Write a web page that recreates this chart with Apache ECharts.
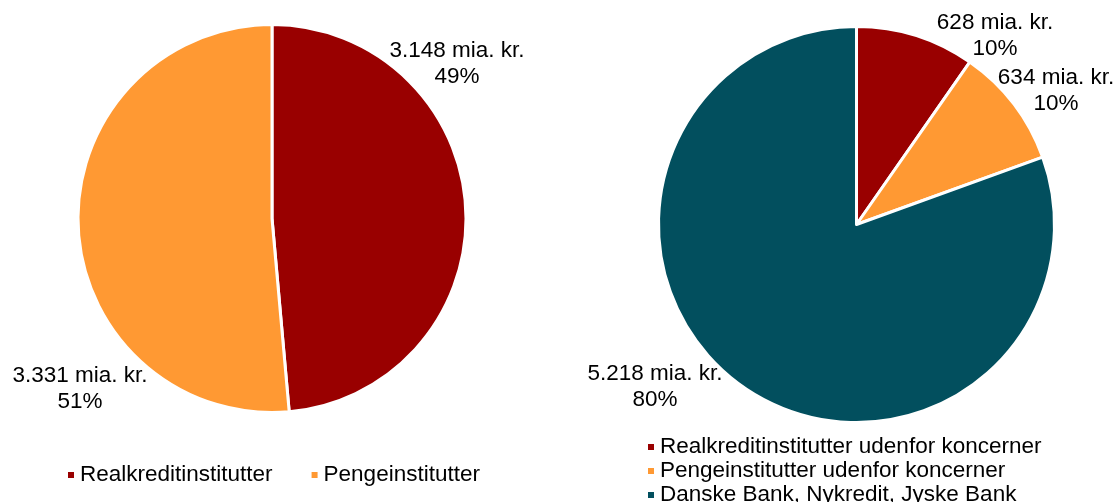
<!DOCTYPE html>
<html>
<head>
<meta charset="utf-8">
<script src="https://cdn.jsdelivr.net/npm/echarts@6/dist/echarts.min.js"></script>
<style>
html,body{margin:0;padding:0;background:#fff;}
#chart{width:1114px;height:502px;}
</style>
</head>
<body>
<div id="chart"></div>
<script>
// Data
const leftCategories = ['Realkreditinstitutter', 'Pengeinstitutter'];
const leftValues = [3148, 3331];
const rightCategories = ['Realkreditinstitutter udenfor koncerner', 'Pengeinstitutter udenfor koncerner', 'Danske Bank, Nykredit, Jyske Bank'];
const rightValues = [628, 634, 5218];
const unitLabel = 'mia. kr.';

const leftColors = ['#990000', '#FF9933'];
const rightColors = ['#990000', '#FF9933', '#024F5E'];

// label anchor positions (text placement, not marks)
const leftLabelPos = [[457, 64], [80, 389]];
const rightLabelPos = [[995, 36], [1056, 91], [655, 387]];

function fmt(v) {
  return String(v).replace(/\B(?=(\d{3})+(?!\d))/g, '.');
}

const FONT = '"Liberation Sans", Arial, sans-serif';

function pieSeries(name, cats, vals, colors, center, radius, labelPos) {
  return {
    type: 'pie',
    name: name,
    center: center,
    radius: radius,
    startAngle: 90,
    clockwise: true,
    animation: false,
    avoidLabelOverlap: false,
    itemStyle: { borderColor: '#ffffff', borderWidth: 3 },
    emphasis: { disabled: true },
    label: {
      show: true,
      position: 'outside',
      formatter: function (p) { return fmt(p.value) + ' ' + unitLabel + '\n' + Math.round(p.percent) + '%'; },
      fontFamily: FONT,
      fontSize: 22.5,
      lineHeight: 26,
      color: '#000000',
      align: 'center'
    },
    labelLine: { show: false },
    labelLayout: function (p) {
      const pos = labelPos[p.dataIndex];
      return { x: pos[0], y: pos[1], align: 'center', verticalAlign: 'middle' };
    },
    percentPrecision: 0,
    data: cats.map(function (c, i) { return { name: c, value: vals[i], itemStyle: { color: colors[i] } }; })
  };
}

const chart = echarts.init(document.getElementById('chart'), null, { renderer: 'canvas' });
chart.setOption({
  backgroundColor: '#ffffff',
  animation: false,
  legend: [
    {
      data: leftCategories,
      orient: 'horizontal',
      left: 61,
      top: 458,
      height: 40,
      icon: 'rect',
      itemWidth: 8,
      itemHeight: 8,
      itemGap: 37,
      selectedMode: false,
      textStyle: { fontFamily: FONT, fontSize: 22.5, lineHeight: 24, color: '#000000' }
    },
    {
      data: rightCategories,
      orient: 'vertical',
      left: 641,
      top: 430,
      height: 100,
      width: 470,
      icon: 'rect',
      itemWidth: 8,
      itemHeight: 8,
      itemGap: 0,
      selectedMode: false,
      textStyle: { fontFamily: FONT, fontSize: 22.5, lineHeight: 24, color: '#000000' }
    }
  ],
  series: [
    pieSeries('left', leftCategories, leftValues, leftColors, [272, 218.5], 194, leftLabelPos),
    pieSeries('right', rightCategories, rightValues, rightColors, [856.5, 224.5], 198, rightLabelPos)
  ]
});
</script>
</body>
</html>
